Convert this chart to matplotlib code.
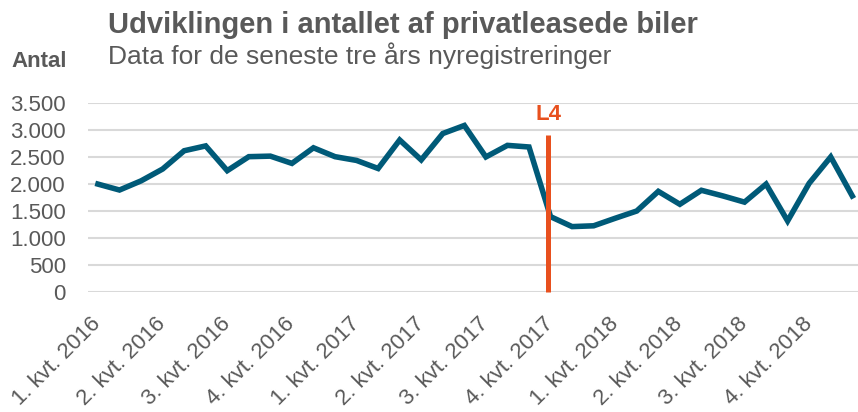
import matplotlib.pyplot as plt
import numpy as np

plt.rcParams['font.family'] = ['Liberation Sans', 'DejaVu Sans']

# Monthly new registrations of private-leased cars, 2016-2018
values = [2000, 1890, 2060, 2280, 2620, 2710, 2250, 2510, 2520, 2385, 2675, 2510,
          2440, 2290, 2820, 2450, 2940, 3090, 2505, 2720, 2690, 1395, 1210, 1225,
          1365, 1500, 1865, 1625, 1885, 1780, 1665, 2000, 1315, 2015, 2505, 1780]
quarter_labels = ['1. kvt. 2016', '2. kvt. 2016', '3. kvt. 2016', '4. kvt. 2016',
                  '1. kvt. 2017', '2. kvt. 2017', '3. kvt. 2017', '4. kvt. 2017',
                  '1. kvt. 2018', '2. kvt. 2018', '3. kvt. 2018', '4. kvt. 2018']
y_ticks = [0, 500, 1000, 1500, 2000, 2500, 3000, 3500]
l4_pos = 20.9
l4_top = 2910
l4_label_y = 3290

grey = '#595959'
blue = '#005A78'
orange = '#E8501E'

fig = plt.figure(figsize=(8.58, 4.12), dpi=100)
ax = fig.add_axes([0.1026, 0.292, 0.897, 0.457])

x = np.arange(len(values))
ax.plot(x, values, color=blue, linewidth=4, solid_joinstyle='miter', zorder=3)

# L4 marker line
ax.plot([l4_pos, l4_pos], [0, l4_top], color=orange, linewidth=3.6, zorder=4,
        solid_capstyle='butt', clip_on=False)
ax.text(l4_pos, l4_label_y, 'L4', color=orange, fontsize=16, fontweight='bold',
        ha='center', va='center')

ax.set_xlim(-0.46, 35.25)
ax.set_ylim(0, 3500)
ax.set_yticks(y_ticks)
ax.set_yticklabels([f'{v:,}'.replace(',', '.') for v in y_ticks])
ax.set_xticks(x[::3])
ax.set_xticklabels(quarter_labels, rotation=45, ha='right', va='center',
                   rotation_mode='anchor')

ax.grid(axis='y', color='#D9D9D9', linewidth=1.5)
ax.set_axisbelow(True)
for s in ax.spines.values():
    s.set_visible(False)
ax.tick_params(length=0, labelsize=16, labelcolor=grey)
ax.tick_params(axis='x', pad=21)
ax.tick_params(axis='y', pad=16)

fig.text(108 / 858, 1 - 33 / 412, 'Udviklingen i antallet af privatleasede biler',
         fontsize=21, fontweight='bold', color=grey, va='baseline')
fig.text(108 / 858, 1 - 64 / 412, 'Data for de seneste tre års nyregistreringer',
         fontsize=19, color=grey, va='baseline')
fig.text(11 / 858, 1 - 67 / 412, 'Antal', fontsize=16, fontweight='bold',
         color=grey, va='baseline')

fig.savefig('out.png', dpi=100)
